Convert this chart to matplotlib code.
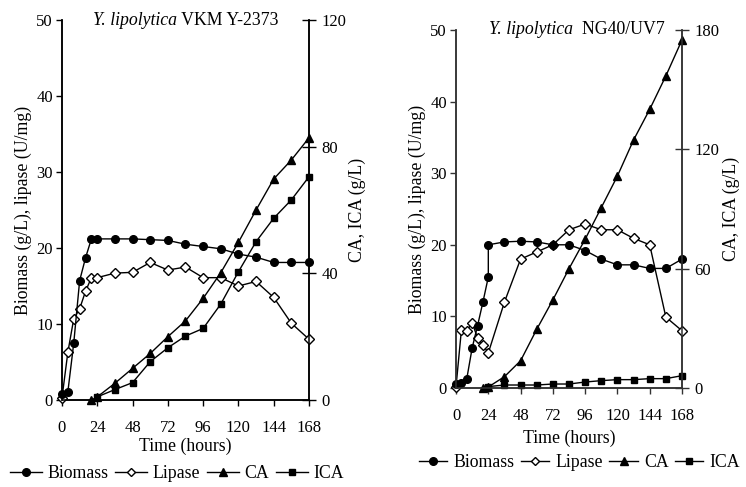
import matplotlib
matplotlib.use("Agg")
import matplotlib.pyplot as plt
from matplotlib.lines import Line2D

plt.rcParams['font.family'] = ['Liberation Serif', 'DejaVu Serif']
plt.rcParams['font.size'] = 12

# ---- VKM Y-2373 (left panel) ----
t_bio_a = [0, 4, 8, 12, 16, 20, 24, 36, 48, 60, 72, 84, 96, 108, 120, 132, 144, 156, 168]
biomass_a = [0.8, 1.1, 7.5, 15.7, 18.7, 21.2, 21.2, 21.2, 21.2, 21.1, 21.0, 20.5, 20.2, 19.9, 19.2, 18.8, 18.1, 18.1, 18.1]
lipase_a = [0.3, 6.3, 10.7, 12.0, 14.3, 16.1, 16.1, 16.7, 16.8, 18.1, 17.1, 17.5, 16.1, 16.1, 15.0, 15.6, 13.5, 10.1, 8.0]
t_ca_a = [20, 24, 36, 48, 60, 72, 84, 96, 108, 120, 132, 144, 156, 168]
ca_a = [0, 1.0, 5.3, 10.0, 14.7, 20.0, 25.0, 32.1, 40.2, 49.8, 60.0, 69.8, 75.8, 82.8]
t_ica_a = [24, 36, 48, 60, 72, 84, 96, 108, 120, 132, 144, 156, 168]
ica_a = [1.0, 3.3, 5.5, 12.1, 16.5, 20.2, 22.6, 30.3, 40.5, 50.0, 57.4, 63.2, 70.5]

# ---- NG40/UV7 (right panel) ----
t_bio_b = [0, 4, 8, 12, 16, 20, 24, 24, 36, 48, 60, 72, 84, 96, 108, 120, 132, 144, 156, 168]
biomass_b = [0.5, 0.7, 1.3, 5.6, 8.7, 12.0, 15.5, 20.0, 20.4, 20.5, 20.4, 20.0, 20.0, 19.2, 18.0, 17.2, 17.2, 16.7, 16.7, 18.0]
t_lip_b = [0, 4, 8, 12, 16, 20, 24, 36, 48, 60, 72, 84, 96, 108, 120, 132, 144, 156, 168]
lipase_b = [0.2, 8.1, 8.0, 9.1, 7.0, 6.0, 4.9, 12.0, 18.0, 19.0, 20.0, 22.1, 22.9, 22.1, 22.1, 20.9, 20.0, 9.9, 8.0]
t_ca_b = [20, 24, 36, 48, 60, 72, 84, 96, 108, 120, 132, 144, 156, 168]
ca_b = [0, 0.5, 5.7, 13.7, 29.5, 44.3, 60.0, 74.8, 90.7, 106.6, 124.7, 140.1, 156.9, 175.0]
t_ica_b = [24, 36, 48, 60, 72, 84, 96, 108, 120, 132, 144, 156, 168]
ica_b = [0.7, 1.5, 1.5, 1.5, 2.0, 2.0, 3.0, 3.7, 4.2, 4.2, 4.7, 4.7, 6.2]

xticks = [0, 24, 48, 72, 96, 120, 144, 168]

fig = plt.figure(figsize=(7.46, 4.87), dpi=100)


def panel(rect, strain, t_bio, bio, t_lip, lip, t_ca, ca, t_ica, ica,
          ymax2, yticks2, title_x, spine_col, xlpad):
    ax = fig.add_axes(rect)
    ax2 = ax.twinx()
    ax.plot(t_lip, lip, marker='D', mfc='white', mec='black', ms=5,
            color='black', lw=1.0, clip_on=False, zorder=3)
    ax.plot(t_bio, bio, marker='o', color='black', lw=1.0, ms=5.5,
            clip_on=False, zorder=4)
    ax2.plot(t_ca, ca, marker='^', color='black', lw=1.0, ms=6, clip_on=False)
    ax2.plot(t_ica, ica, marker='s', color='black', lw=1.0, ms=5, clip_on=False)

    ax.set_xlim(0, 168)
    ax.set_xticks(xticks)
    ax.set_ylim(0, 50)
    ax.set_yticks(range(0, 51, 10))
    ax2.set_ylim(0, ymax2)
    ax2.set_yticks(yticks2)

    for a in (ax, ax2):
        a.spines['top'].set_visible(False)
        for s in a.spines.values():
            s.set_color(spine_col)
            s.set_linewidth(1.1)
    ax.tick_params(axis='x', direction='out', length=4.5, width=1.0, color=spine_col, pad=10)
    ax.tick_params(axis='y', direction='out', length=4.5, width=1.0, color=spine_col, pad=2)
    ax2.tick_params(axis='y', direction='inout', length=10, width=1.0, color=spine_col, pad=4)

    ax.set_xlabel('Time (hours)', fontsize=12.8, labelpad=xlpad)
    ax.set_ylabel('Biomass (g/L), lipase (U/mg)', fontsize=12.8, labelpad=3)
    ax2.set_ylabel('CA, ICA (g/L)', fontsize=12.8, labelpad=2)

    # title: italic species name followed by upright strain name
    t1 = ax2.text(title_x, 1.0, 'Y. lipolytica', transform=ax.transAxes,
                  ha='left', va='center', fontsize=12.8, fontstyle='italic')
    ax2.annotate(strain, xy=(1, 0), xycoords=t1, ha='left', va='bottom',
                 fontsize=12.8)
    return ax


panel([0.0831, 0.1786, 0.3311, 0.7803], ' VKM Y-2373',
      t_bio_a, biomass_a, t_bio_a, lipase_a, t_ca_a, ca_a, t_ica_a, ica_a,
      120, [0, 40, 80, 120], 0.125, 'black', 1)
panel([0.6113, 0.2033, 0.3029, 0.7351], '  NG40/UV7',
      t_bio_b, biomass_b, t_lip_b, lipase_b, t_ca_b, ca_b, t_ica_b, ica_b,
      180, [0, 60, 120, 180], 0.145, '#333333', 4)

labels = ['Biomass', 'Lipase', 'CA', 'ICA']
handles = [
    Line2D([], [], color='black', lw=1.0, marker='o', ms=5.5),
    Line2D([], [], color='black', lw=1.0, marker='D', mfc='white', ms=4.5),
    Line2D([], [], color='black', lw=1.0, marker='^', ms=6),
    Line2D([], [], color='black', lw=1.0, marker='s', ms=5),
]
fig.legend(handles, labels, loc='center left', bbox_to_anchor=(0.013, 0.027), ncol=4,
           frameon=False, fontsize=12.8, handlelength=1.8, handletextpad=0.3,
           columnspacing=0.4, borderaxespad=0, borderpad=0)
fig.legend(handles, labels, loc='center left', bbox_to_anchor=(0.5617, 0.05), ncol=4,
           frameon=False, fontsize=12.8, handlelength=1.6, handletextpad=0.35,
           columnspacing=0.35, borderaxespad=0, borderpad=0)

fig.savefig('out.png', dpi=100)
